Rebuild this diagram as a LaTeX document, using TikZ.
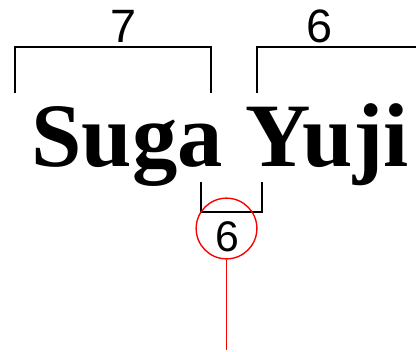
\documentclass[tikz,border=0pt]{standalone}
\usepackage{fontspec}
\setmainfont{Liberation Serif}
\setsansfont{Liberation Sans}

\begin{document}
\begin{tikzpicture}[x=1pt, y=-1pt, line width=1.6pt, line join=miter]
  \tikzset{
    count/.style={anchor=center, inner sep=0pt, font=\sffamily\fontsize{47}{56}\selectfont},
    bracket/.style={draw=black, line width=1.6pt},
  }

  % ---- counts over the two names
  \node[count] (seven) at (124,27) {7};
  \node[count] (sixtop) at (321,27) {6};

  % ---- brackets above
  \draw[bracket] (15,93) |- (212,47) -- (212,93);
  \draw[bracket] (258,93) |- (418,47);

  % ---- the name itself
  \node[anchor=base, inner sep=0pt, font=\bfseries\fontsize{91}{100}\selectfont] (name) at (221,167) {Suga Yuji};

  % ---- bracket below, the gap, and the ring
  \draw[bracket] (202,183) |- (263,213) -- (263,183);
  \node[circle, draw=red, line width=1.4pt, minimum size=61pt, inner sep=0pt] (ring) at (227.5,229.5) {};
  \node[count, font=\sffamily\fontsize{43}{50}\selectfont] (sixgap) at (228,238) {6};
  \coordinate (tail) at (227.5,352);
  \draw[red, line width=1.5pt] (ring.south) -- (tail);

  \path[use as bounding box] (0,0) rectangle (417,352);
\end{tikzpicture}
\end{document}
